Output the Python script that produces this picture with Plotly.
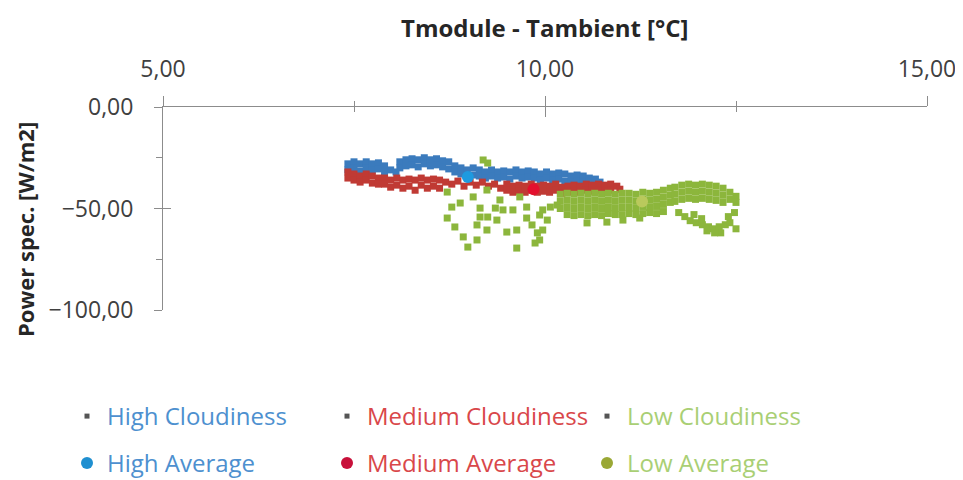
import plotly.graph_objects as go

# ---------------- data ----------------
high_x = [7.42, 7.42, 7.50, 7.50, 7.58, 7.58, 7.66, 7.66, 7.74, 7.74, 7.82, 7.82, 7.90, 7.90,
          7.98, 8.05,
          8.10, 8.10, 8.18, 8.18, 8.26, 8.26, 8.34, 8.34, 8.42, 8.42, 8.50, 8.50, 8.58, 8.58,
          8.66, 8.66, 8.74, 8.74,
          8.82, 8.82, 8.90, 8.90, 8.98, 9.06, 9.06, 9.14, 9.14, 9.22, 9.22, 9.30, 9.30, 9.38,
          9.38, 9.46, 9.46, 9.54, 9.54, 9.62, 9.62, 9.70, 9.70, 9.78, 9.78, 9.86, 9.86, 9.94,
          9.94, 10.02, 10.02, 10.10, 10.10, 10.18, 10.18, 10.26, 10.26, 10.34, 10.34, 10.42,
          10.42, 10.50, 10.50, 10.58, 10.58, 10.66, 10.72]
high_y = [-28.0, -31.0, -27.0, -30.0, -28.0, -31.5, -27.0, -30.0, -28.0, -31.0, -27.5, -30.5, -29.0, -32.0,
          -31.0, -32.0,
          -27.0, -30.0, -26.0, -29.0, -25.5, -28.5, -26.0, -29.5, -25.0, -28.0, -26.0, -29.0, -25.5, -28.5,
          -26.5, -29.5, -27.0, -30.5,
          -29.0, -32.0, -30.0, -33.0, -31.0, -30.0, -33.5, -31.0, -34.0, -32.0, -35.0, -31.0, -34.0, -32.0,
          -35.0, -31.5, -34.5, -32.0, -35.5, -31.0, -34.0, -32.0, -35.0, -31.5, -34.5, -32.0, -35.0, -33.0,
          -36.0, -32.0, -35.0, -33.0, -36.0, -32.5, -35.5, -33.0, -36.5, -34.0, -37.0, -33.5,
          -36.5, -34.0, -37.0, -35.0, -38.0, -35.5, -37.0]

medium_x = [7.42, 7.42, 7.50, 7.50, 7.58, 7.58, 7.66, 7.66, 7.74, 7.74, 7.82, 7.82, 7.90, 7.90,
            7.98, 7.98, 8.06, 8.06, 8.14, 8.14, 8.22, 8.22, 8.30, 8.30, 8.38, 8.38, 8.46, 8.46,
            8.54, 8.54, 8.62, 8.62, 8.70, 8.78, 8.86, 8.94,
            9.02, 9.10, 9.18, 9.26, 9.34, 9.42, 9.50, 9.50, 9.58, 9.58, 9.66, 9.66, 9.74, 9.74,
            9.82, 9.82, 9.90, 9.90, 9.98, 9.98, 10.06, 10.06, 10.14, 10.14, 10.22, 10.22, 10.30,
            10.30, 10.38, 10.38, 10.46, 10.46, 10.54, 10.54, 10.62, 10.62, 10.70, 10.70, 10.78,
            10.78, 10.86, 10.86, 10.94, 10.98]
medium_y = [-32.0, -35.0, -33.0, -36.0, -34.0, -37.0, -33.0, -36.0, -34.0, -37.5, -35.0, -38.0, -35.0, -38.0,
            -36.0, -39.5, -35.0, -38.5, -36.0, -40.0, -35.5, -39.0, -36.0, -41.0, -35.0, -38.5, -36.0, -40.0,
            -35.5, -39.0, -36.0, -40.0, -37.0, -38.0, -36.5, -39.0,
            -37.0, -38.5, -37.0, -39.0, -38.0, -40.0, -38.0, -41.0, -39.0, -42.0, -38.5, -41.5, -39.0, -42.0,
            -38.0, -41.0, -39.0, -42.0, -38.5, -41.5, -39.0, -42.0, -38.0, -41.0, -39.5, -42.5, -39.0,
            -42.0, -38.5, -41.5, -39.0, -42.0, -38.0, -41.0, -38.5, -41.5, -38.0, -41.0, -38.5,
            -41.5, -38.0, -41.0, -39.0, -40.5]

low_x = [
    # scattered part
    9.19, 9.25, 8.72, 8.78, 8.72, 8.82, 8.93, 8.99, 9.11, 9.15, 9.15, 9.11, 9.24, 9.37, 9.45,
    9.58, 9.63, 9.76, 9.83, 9.93, 9.97, 10.03, 9.90, 9.87, 9.63, 9.50, 9.24, 9.41, 9.67, 9.76,
    10.07, 10.16, 8.89, 9.06, 9.35, 9.25, 9.97, 9.93, 10.55, 10.81, 11.02, 11.24,
    # main band
    10.20, 10.20, 10.20, 10.29, 10.29, 10.29, 10.29, 10.38, 10.38, 10.38, 10.38, 10.47, 10.47,
    10.47, 10.47, 10.56, 10.56, 10.56, 10.56, 10.65, 10.65, 10.65, 10.65, 10.74, 10.74, 10.74,
    10.74, 10.83, 10.83, 10.83, 10.83, 10.92, 10.92, 10.92, 10.92, 11.01, 11.01, 11.01, 11.01,
    11.10, 11.10, 11.10, 11.10, 11.19, 11.19, 11.19, 11.19, 11.28, 11.28, 11.28, 11.28, 11.37,
    11.37, 11.37, 11.37, 11.46, 11.46, 11.46, 11.46, 11.55, 11.55, 11.55, 11.55, 11.64, 11.64,
    11.64,
    # hump
    11.70, 11.70, 11.70, 11.79, 11.79, 11.79, 11.88, 11.88, 11.88, 11.97, 11.97, 11.97, 12.06,
    12.06, 12.06, 12.15, 12.15, 12.15, 12.24, 12.24, 12.24, 12.33, 12.33, 12.33, 12.42, 12.42,
    12.50, 12.50,
    # lower loop
    11.75, 11.83, 11.90, 11.98, 12.06, 12.14, 12.20, 12.28, 12.36, 12.42, 12.50, 12.30, 12.05,
    12.40, 12.48, 11.95, 12.12, 12.22,
]
low_y = [
    -26.1, -27.6, -41.9, -49.3, -54.7, -59.1, -64.0, -69.0, -65.5, -49.8, -54.2, -58.1, -60.6, -55.7, -50.7,
    -50.7, -60.6, -54.7, -58.1, -53.2, -50.7, -55.7, -62.0, -67.0, -69.5, -61.6, -40.9, -45.8, -44.3, -49.3,
    -49.3, -48.3, -47.3, -44.3, -49.8, -54.2, -60.6, -65.5, -57.1, -56.7, -55.7, -54.7,
    -43.0, -46.5, -50.0, -42.5, -46.0, -49.5, -53.0, -43.0, -46.5, -50.0, -53.5, -42.5, -46.0,
    -49.5, -53.0, -43.0, -46.5, -50.0, -53.5, -42.5, -46.0, -49.5, -53.0, -43.0, -46.5, -50.0,
    -53.5, -42.5, -46.0, -49.5, -52.5, -43.0, -46.5, -50.0, -53.0, -42.5, -46.0, -49.5, -53.0,
    -42.5, -46.0, -49.5, -52.5, -43.0, -46.5, -50.0, -53.0, -42.0, -45.5, -49.0, -52.5, -42.5,
    -46.0, -49.5, -52.0, -42.0, -45.5, -49.0, -52.5, -41.0, -44.5, -48.0, -51.5, -40.0, -43.5,
    -47.0,
    -39.5, -43.0, -46.5, -38.5, -42.0, -45.5, -38.0, -41.5, -45.0, -38.5, -42.0, -45.5, -38.0,
    -41.5, -45.0, -38.5, -42.0, -45.5, -39.0, -42.5, -46.0, -40.0, -43.5, -47.0, -42.0, -45.5,
    -44.0, -47.0,
    -52.0, -54.0, -56.0, -57.0, -58.0, -59.0, -60.0, -59.0, -58.0, -57.0, -60.0, -62.0, -55.0,
    -54.0, -52.0, -53.0, -61.0, -62.0,
]

avg_names = ["High Average", "Medium Average", "Low Average"]
avg_x = [8.99, 9.85, 11.27]
avg_y = [-34.5, -40.5, -46.5]

x_ticks = [5, 10, 15]
y_ticks = [-100, -50, 0]

# ---------------- styling ----------------
FONT = "Open Sans"
c_high, c_med, c_low = "#3b7bbd", "#c03a34", "#8cb63c"
c_high_txt, c_med_txt, c_low_txt = "#4d90cf", "#d9474a", "#a9cf74"
avg_marker = ["#1e9ae0", "#e3102e", "#b9c95c"]
avg_legend = ["#1f8fd0", "#c8103a", "#9aa835"]
avg_txt = [c_high_txt, c_med_txt, c_low_txt]

fig = go.Figure()

sq = dict(symbol="square", size=7, line=dict(width=0))
fig.add_trace(go.Scatter(x=high_x, y=high_y, mode="markers", marker=dict(color=c_high, **sq),
                         showlegend=False, hoverinfo="x+y"))
fig.add_trace(go.Scatter(x=medium_x, y=medium_y, mode="markers", marker=dict(color=c_med, **sq),
                         showlegend=False, hoverinfo="x+y"))
fig.add_trace(go.Scatter(x=low_x, y=low_y, mode="markers", marker=dict(color=c_low, **sq),
                         showlegend=False, hoverinfo="x+y"))
for i in range(3):
    fig.add_trace(go.Scatter(x=[avg_x[i]], y=[avg_y[i]], mode="markers",
                             marker=dict(color=avg_marker[i], size=12, symbol="circle"),
                             showlegend=False))

# legend entries
cloud_names = ["High Cloudiness", "Medium Cloudiness", "Low Cloudiness"]
cloud_txt = [c_high_txt, c_med_txt, c_low_txt]
for i in range(3):
    fig.add_trace(go.Scatter(x=[None], y=[None], mode="markers",
                             marker=dict(color="#555555", size=5, symbol="square"),
                             name=f"<span style='color:{cloud_txt[i]}'>{cloud_names[i]}</span>",
                             legend="legend"))
for i in range(3):
    fig.add_trace(go.Scatter(x=[None], y=[None], mode="markers",
                             marker=dict(color=avg_legend[i], size=12, symbol="circle"),
                             name=f"<span style='color:{avg_txt[i]}'>{avg_names[i]}</span>",
                             legend="legend2"))

# overlay axes to make crossing ticks
fig.add_trace(go.Scatter(x=[None], y=[None], xaxis="x2", yaxis="y2", showlegend=False))

axis_col = "#8c8c8c"
OFF = 8  # page body margin in the browser
W, H = 963, 480
PL, PT, PW, PH = 163, 107, 764, 203    # plot area in page pixels
L, T = PL - OFF, PT - OFF
R = W - L - PW
B = H - T - PH

def px_x(p):
    return (p - PL) / PW

def px_y(p):
    return (PT + PH - p) / PH

fig.update_layout(
    width=W, height=H,
    margin=dict(l=L, r=R, t=T, b=B, pad=0, autoexpand=False),
    paper_bgcolor="white", plot_bgcolor="white",
    separators=",.",
    font=dict(family=FONT, size=23, color="#404040"),
    xaxis=dict(range=[5, 15], tickvals=x_ticks, tickformat=".2f", side="top", automargin=False,
               showgrid=False, zeroline=False, showline=True, linecolor=axis_col, linewidth=1,
               ticks="outside", ticklen=10, tickcolor=axis_col, ticklabelstandoff=10,
               minor=dict(dtick=2.5, ticks="outside", ticklen=5, tickcolor=axis_col),
               tickfont=dict(size=23, color="#404040")),
    yaxis=dict(range=[-100, 0], tickvals=y_ticks, tickformat=".2f", automargin=False,
               showgrid=False, zeroline=False, showline=True, linecolor=axis_col, linewidth=1,
               ticks="outside", ticklen=8, tickcolor=axis_col, ticklabelstandoff=16,
               minor=dict(dtick=25, ticks="outside", ticklen=6, tickcolor=axis_col),
               tickfont=dict(size=23, color="#404040")),
    xaxis2=dict(range=[5, 15], overlaying="x", side="top", anchor="y2", tickvals=x_ticks,
                showticklabels=False, showgrid=False, zeroline=False, showline=False, automargin=False,
                ticks="inside", ticklen=10, tickcolor=axis_col,
                minor=dict(dtick=2.5, ticks="inside", ticklen=5, tickcolor=axis_col)),
    yaxis2=dict(range=[-100, 0], overlaying="y", side="left", anchor="x2", tickvals=y_ticks,
                showticklabels=False, showgrid=False, zeroline=False, showline=False, automargin=False,
                ticks="inside", ticklen=8, tickcolor=axis_col),
    legend=dict(orientation="h", x=px_x(67), y=px_y(394), xanchor="left", yanchor="top",
                entrywidth=215, entrywidthmode="pixels", font=dict(size=24),
                bgcolor="rgba(0,0,0,0)", itemclick=False),
    legend2=dict(orientation="h", x=px_x(67), y=px_y(441), xanchor="left", yanchor="top",
                 entrywidth=215, entrywidthmode="pixels", font=dict(size=24),
                 bgcolor="rgba(0,0,0,0)", itemclick=False),
    annotations=[
        dict(text="<b>Tmodule - Tambient [°C]</b>", x=0.5, y=px_y(28), xref="paper", yref="paper",
             showarrow=False, font=dict(size=24, color="#262626"), xanchor="center", yanchor="middle"),
        dict(text="<b>Power spec. [W/m2]</b>", x=px_x(25), y=px_y(230), xref="paper", yref="paper",
             showarrow=False, textangle=-90, font=dict(size=22, color="#262626"),
             xanchor="center", yanchor="middle"),
    ],
)

fig.write_html("out.html")
